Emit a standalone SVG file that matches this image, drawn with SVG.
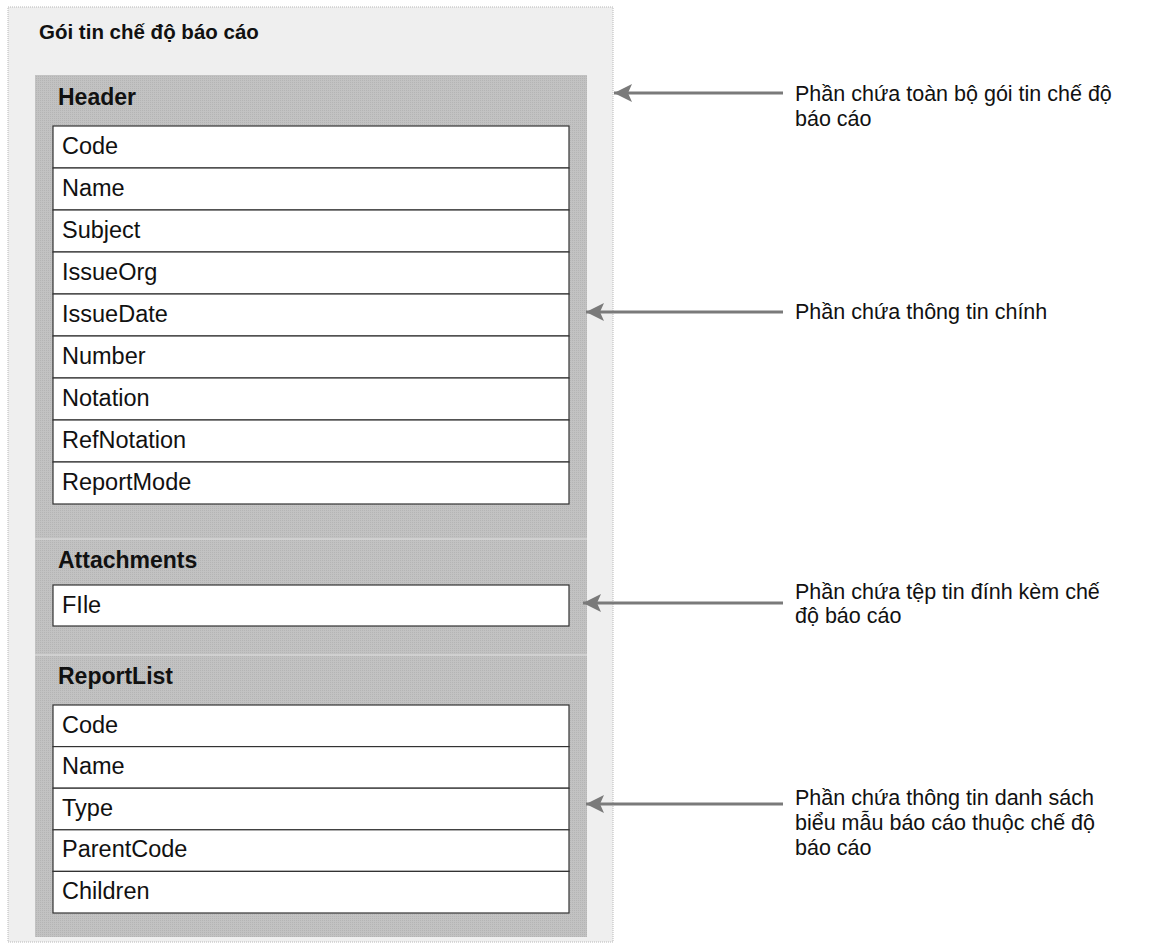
<svg xmlns="http://www.w3.org/2000/svg" width="1173" height="947" viewBox="0 0 1173 947">
<defs>
<marker id="ah" markerWidth="20" markerHeight="20" refX="19" refY="10" orient="auto" markerUnits="userSpaceOnUse">
<path d="M1,1 L19,10 L1,19 L5,10 Z" fill="#7a7a7a"/>
</marker>
<pattern id="ht" width="2" height="2" patternUnits="userSpaceOnUse">
<rect width="2" height="2" fill="#c2c2c2"/>
<rect width="1" height="1" fill="#b4b4b4"/>
</pattern>
</defs>
<style>
.row{fill:#fff;stroke:#333;stroke-width:1.2}
.rt{font-family:"Liberation Sans",Arial,sans-serif;font-size:23.5px;fill:#111}
.hd{font-family:"Liberation Sans",Arial,sans-serif;font-size:23px;font-weight:bold;fill:#111}
.an{font-family:"Liberation Sans",Arial,sans-serif;font-size:21.5px;fill:#111}
.ar{stroke:#7a7a7a;stroke-width:3;fill:none;marker-end:url(#ah)}
.sep{stroke:#d6d6d6;stroke-width:1.5}
</style>
<rect width="1173" height="947" fill="#fff"/>
<g id="outer">
<rect x="8" y="7" width="605" height="935" fill="#efefef" stroke="#b8b8b8" stroke-width="1" stroke-dasharray="1,1"/>
<text x="39" y="39" font-family="Liberation Sans,Arial,sans-serif" font-size="20.5" font-weight="bold" fill="#111">Gói tin chế độ báo cáo</text>
</g>
<g id="container">
<rect x="35" y="75" width="552" height="862" fill="url(#ht)"/>
<line class="sep" x1="35" y1="539" x2="587" y2="539"/>
<line class="sep" x1="35" y1="655" x2="587" y2="655"/>
</g>
<g id="header">
<text class="hd" x="58" y="105">Header</text>
<rect class="row" x="53" y="126" width="516" height="42"/>
<text class="rt" x="62" y="154">Code</text>
<rect class="row" x="53" y="168" width="516" height="42"/>
<text class="rt" x="62" y="196">Name</text>
<rect class="row" x="53" y="210" width="516" height="42"/>
<text class="rt" x="62" y="238">Subject</text>
<rect class="row" x="53" y="252" width="516" height="42"/>
<text class="rt" x="62" y="280">IssueOrg</text>
<rect class="row" x="53" y="294" width="516" height="42"/>
<text class="rt" x="62" y="322">IssueDate</text>
<rect class="row" x="53" y="336" width="516" height="42"/>
<text class="rt" x="62" y="364">Number</text>
<rect class="row" x="53" y="378" width="516" height="42"/>
<text class="rt" x="62" y="406">Notation</text>
<rect class="row" x="53" y="420" width="516" height="42"/>
<text class="rt" x="62" y="448">RefNotation</text>
<rect class="row" x="53" y="462" width="516" height="42"/>
<text class="rt" x="62" y="490">ReportMode</text>
</g>
<g id="attachments">
<text class="hd" x="58" y="568">Attachments</text>
<rect class="row" x="53" y="585" width="516" height="41"/>
<text class="rt" x="62" y="613">FIle</text>
</g>
<g id="reportlist">
<text class="hd" x="58" y="684">ReportList</text>
<rect class="row" x="53" y="705" width="516" height="41.6"/>
<text class="rt" x="62" y="732.5">Code</text>
<rect class="row" x="53" y="746.6" width="516" height="41.6"/>
<text class="rt" x="62" y="774.1">Name</text>
<rect class="row" x="53" y="788.2" width="516" height="41.6"/>
<text class="rt" x="62" y="815.7">Type</text>
<rect class="row" x="53" y="829.8" width="516" height="41.6"/>
<text class="rt" x="62" y="857.3">ParentCode</text>
<rect class="row" x="53" y="871.4" width="516" height="41.6"/>
<text class="rt" x="62" y="898.9">Children</text>
</g>
<g id="connectors">
<line class="ar" x1="783" y1="93" x2="614" y2="93"/>
<line class="ar" x1="783" y1="312" x2="586" y2="312"/>
<line class="ar" x1="783" y1="603" x2="583" y2="603"/>
<line class="ar" x1="783" y1="804" x2="586" y2="804"/>
</g>
<g id="note1">
<text class="an" x="795" y="101">Phần chứa toàn bộ gói tin chế độ</text>
<text class="an" x="795" y="126">báo cáo</text>
</g>
<g id="note2">
<text class="an" x="795" y="319">Phần chứa thông tin chính</text>
</g>
<g id="note3">
<text class="an" x="795" y="599">Phần chứa tệp tin đính kèm chế</text>
<text class="an" x="795" y="623">độ báo cáo</text>
</g>
<g id="note4">
<text class="an" x="795" y="805">Phần chứa thông tin danh sách</text>
<text class="an" x="795" y="830">biểu mẫu báo cáo thuộc chế độ</text>
<text class="an" x="795" y="855">báo cáo</text>
</g>
</svg>
